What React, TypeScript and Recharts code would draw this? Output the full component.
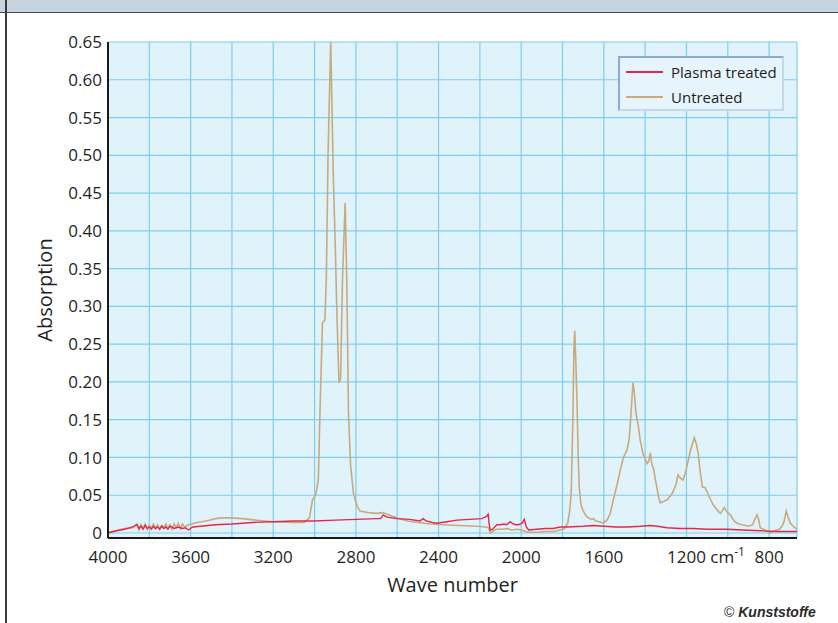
import React from "react";
import {
  LineChart,
  Line,
  XAxis,
  YAxis,
  CartesianGrid,
  Legend,
  Label,
} from "recharts";

// wave numbers (cm-1) and absorption
const untreatedWn = [
  4000, 3960, 3920, 3880, 3860, 3850, 3840, 3830, 3820, 3810, 3800, 3790, 3780,
  3770, 3760, 3750, 3740, 3730, 3720, 3710, 3700, 3690, 3680, 3670, 3660, 3650,
  3640, 3630, 3610, 3595, 3570, 3546, 3510, 3480, 3450, 3400, 3350, 3280, 3200,
  3100, 3050, 3025, 3010, 2995, 2982, 2974, 2962, 2950, 2943, 2935, 2922, 2910,
  2900, 2892, 2882, 2874, 2865, 2852, 2844, 2836, 2826, 2812, 2795, 2780, 2740,
  2700, 2670, 2640, 2600, 2550, 2500, 2440, 2380, 2300, 2214, 2170, 2158, 2150,
  2135, 2118, 2090, 2069, 2045, 2020, 2000, 1980, 1960, 1920, 1880, 1845, 1810,
  1790, 1775, 1765, 1758, 1750, 1745, 1741, 1736, 1730, 1724, 1719, 1712, 1706,
  1690, 1680, 1660, 1650, 1640, 1620, 1603, 1585, 1570, 1554, 1535, 1520, 1505,
  1488, 1477, 1468, 1459, 1452, 1445, 1432, 1424, 1410, 1391, 1383, 1375, 1367,
  1360, 1350, 1343, 1335, 1327, 1310, 1294, 1275, 1264, 1250, 1241, 1230, 1217,
  1205, 1198, 1180, 1162, 1152, 1143, 1133, 1123, 1110, 1101, 1085, 1070, 1050,
  1036, 1025, 1017, 1005, 988, 970, 955, 930, 900, 880, 866, 858, 850, 843, 820,
  795, 775, 750, 738, 728, 717, 707, 697, 680, 665,
];
const untreatedAbs = [
  0.001, 0.003, 0.006, 0.007, 0.012, 0.004, 0.011, 0.006, 0.012, 0.005, 0.01,
  0.007, 0.012, 0.006, 0.011, 0.005, 0.01, 0.007, 0.012, 0.006, 0.011, 0.005,
  0.012, 0.007, 0.013, 0.006, 0.012, 0.008, 0.011, 0.012, 0.014, 0.015, 0.017,
  0.019, 0.02, 0.02, 0.019, 0.017, 0.015, 0.014, 0.014, 0.02, 0.044, 0.05,
  0.07, 0.16, 0.278, 0.282, 0.34, 0.5, 0.65, 0.48, 0.38, 0.29, 0.199, 0.205,
  0.336, 0.437, 0.33, 0.16, 0.09, 0.053, 0.036, 0.029, 0.027, 0.026, 0.027,
  0.024, 0.02, 0.016, 0.014, 0.012, 0.011, 0.01, 0.009, 0.008, 0.007, 0.0,
  0.003, 0.005, 0.005, 0.006, 0.004, 0.005, 0.004, 0.002, 0.001, 0.001, 0.002,
  0.002, 0.004, 0.006, 0.013, 0.03, 0.053, 0.15, 0.24, 0.268, 0.23, 0.176,
  0.1, 0.061, 0.04, 0.033, 0.024, 0.021, 0.018, 0.019, 0.016, 0.015, 0.013,
  0.017, 0.025, 0.044, 0.065, 0.084, 0.1, 0.11, 0.125, 0.16, 0.199, 0.185,
  0.16, 0.14, 0.123, 0.105, 0.092, 0.095, 0.106, 0.09, 0.086, 0.07, 0.06,
  0.048, 0.04, 0.042, 0.044, 0.05, 0.055, 0.065, 0.077, 0.073, 0.07, 0.08,
  0.088, 0.11, 0.126, 0.118, 0.105, 0.08, 0.061, 0.06, 0.055, 0.045, 0.037,
  0.03, 0.026, 0.03, 0.034, 0.028, 0.024, 0.016, 0.013, 0.011, 0.009, 0.011,
  0.02, 0.024, 0.017, 0.007, 0.004, 0.0, 0.003, 0.005, 0.009, 0.015, 0.029,
  0.02, 0.013, 0.008, 0.005,
];

const plasmaWn = [
  4000, 3960, 3920, 3880, 3860, 3850, 3840, 3830, 3820, 3810, 3800, 3790, 3780,
  3770, 3760, 3750, 3740, 3730, 3720, 3710, 3700, 3680, 3660, 3640, 3625, 3611,
  3590, 3550, 3480, 3400, 3300, 3200, 3100, 3000, 2900, 2800, 2700, 2680, 2668,
  2650, 2600, 2540, 2490, 2474, 2460, 2430, 2408, 2360, 2311, 2250, 2190, 2168,
  2160, 2155, 2150, 2138, 2118, 2100, 2085, 2070, 2053, 2040, 2025, 2013, 1995,
  1985, 1975, 1964, 1924, 1880, 1845, 1811, 1780, 1700, 1651, 1600, 1540, 1488,
  1420, 1375, 1340, 1294, 1230, 1167, 1100, 1006, 930, 843, 760, 665,
];
const plasmaAbs = [
  0.0, 0.003, 0.005, 0.008, 0.011, 0.006, 0.009, 0.005, 0.01, 0.006, 0.008,
  0.005, 0.009, 0.006, 0.008, 0.005, 0.009, 0.006, 0.008, 0.005, 0.009, 0.006,
  0.008, 0.006, 0.007, 0.004, 0.008, 0.009, 0.011, 0.012, 0.014, 0.015, 0.016,
  0.016, 0.017, 0.018, 0.019, 0.019, 0.024, 0.021, 0.019, 0.018, 0.016, 0.019,
  0.016, 0.014, 0.013, 0.015, 0.017, 0.018, 0.019, 0.022, 0.025, 0.012, 0.004,
  0.005, 0.011, 0.011, 0.012, 0.011, 0.015, 0.012, 0.011, 0.011, 0.013, 0.018,
  0.008, 0.004, 0.005, 0.006, 0.006, 0.008, 0.008, 0.009, 0.01, 0.009, 0.008,
  0.008, 0.009, 0.01, 0.009, 0.007, 0.006, 0.006, 0.005, 0.005, 0.004, 0.003,
  0.002, 0.002,
];

const seriesNames = ["Plasma treated", "Untreated"];
const seriesColors = ["#e2284b", "#c9aa7c"];

const yTicks = [0, 0.05, 0.1, 0.15, 0.2, 0.25, 0.3, 0.35, 0.4, 0.45, 0.5, 0.55, 0.6, 0.65];
const xGridTicks = [
  4000, 3800, 3600, 3400, 3200, 3000, 2800, 2600, 2400, 2200, 2000, 1800, 1600,
  1400, 1200, 1000, 800,
];
const xTickLabels = [4000, 3600, 3200, 2800, 2400, 2000, 1600, 1200, 800];
const unitTick = 1200;

const untreatedData = untreatedWn.map((wn, i) => ({ wn, a: untreatedAbs[i] }));
const plasmaData = plasmaWn.map((wn, i) => ({ wn, a: plasmaAbs[i] }));

const FONT = "'Open Sans', sans-serif";
const INK = "#1f1f1f";

const XTick = ({ x, y, payload }: any) => {
  const v = payload.value;
  if (!xTickLabels.includes(v)) return null;
  if (v === unitTick) {
    return (
      <text x={x - 19.5} y={y + 17} fontFamily={FONT} fontSize={17} fill={INK}>
        {v} cm
        <tspan dy={-7} fontSize={12}>
          -1
        </tspan>
      </text>
    );
  }
  return (
    <text x={x} y={y + 17} textAnchor="middle" fontFamily={FONT} fontSize={17} fill={INK}>
      {v}
    </text>
  );
};

const XTitle = ({ viewBox }: any) => (
  <text
    x={viewBox.x + viewBox.width / 2}
    y={viewBox.y + 54}
    textAnchor="middle"
    fontFamily={FONT}
    fontSize={20}
    fill={INK}
  >
    Wave number
  </text>
);

const YTitle = ({ viewBox }: any) => {
  const cx = viewBox.x + 4;
  const cy = viewBox.y + viewBox.height / 2;
  return (
    <text
      x={cx}
      y={cy}
      transform={`rotate(-90 ${cx} ${cy})`}
      textAnchor="middle"
      fontFamily={FONT}
      fontSize={20}
      fill={INK}
    >
      Absorption
    </text>
  );
};

const LegendBox = () => (
  <div
    style={{
      width: 162,
      height: 50,
      background: "#e6f4fb",
      borderLeft: "2px solid #8eaad4",
      borderTop: "2px solid #8eaad4",
      borderRight: "2px solid #c4d8ea",
      borderBottom: "2px solid #c4d8ea",
      fontFamily: FONT,
      fontSize: 15,
      color: INK,
      paddingTop: 1,
      boxSizing: "content-box",
      whiteSpace: "nowrap",
    }}
  >
    {seriesNames.map((name, i) => (
      <div key={name} style={{ display: "flex", alignItems: "center", height: 25 }}>
        <span
          style={{
            display: "inline-block",
            flex: "0 0 37px",
            height: 2,
            marginLeft: 6,
            marginRight: 8,
            background: seriesColors[i],
          }}
        />
        <span>{name}</span>
      </div>
    ))}
  </div>
);

export default function App() {
  return (
    <div
      style={{
        position: "absolute",
        left: 0,
        top: 0,
        width: 838,
        height: 623,
        background: "#fff",
        overflow: "hidden",
      }}
    >
      <div
        style={{
          position: "absolute",
          left: 0,
          top: 0,
          width: 838,
          height: 12,
          background: "#c6d4df",
          borderBottom: "1.5px solid #4a4a4a",
        }}
      />
      <div
        style={{
          position: "absolute",
          left: 5,
          top: 0,
          width: 1.5,
          height: 623,
          background: "#3a3a3a",
        }}
      />
      <div style={{ position: "absolute", left: 0, top: 0 }}>
        <LineChart
          width={838}
          height={623}
          margin={{ top: 42, right: 41, bottom: 55, left: 48 }}
        >
          <CartesianGrid
            fill="#e0f2fa"
            fillOpacity={1}
            stroke="#7dcff0"
            strokeWidth={1.2}
          />
          <XAxis
            dataKey="wn"
            type="number"
            domain={[665, 4000]}
            reversed
            allowDataOverflow
            ticks={xGridTicks}
            interval={0}
            height={30}
            tick={<XTick />}
            tickLine={false}
            axisLine={{ stroke: "#1a1a1a", strokeWidth: 2 }}
          >
            <Label content={<XTitle />} />
          </XAxis>
          <YAxis
            type="number"
            domain={[-0.0066, 0.65]}
            allowDataOverflow
            ticks={yTicks}
            interval={0}
            width={60}
            tickSize={6}
            tickMargin={0}
            tickLine={false}
            tickFormatter={(v: number) => (v === 0 ? "0" : v.toFixed(2))}
            tick={{ fontFamily: FONT, fontSize: 17, fill: INK }}
            axisLine={{ stroke: "#1a1a1a", strokeWidth: 2 }}
          >
            <Label content={<YTitle />} />
          </YAxis>
          <Legend
            layout="vertical"
            align="center"
            verticalAlign="middle"
            content={<LegendBox />}
            wrapperStyle={{ left: 618, top: 56, width: 166, height: 55 }}
          />
          <Line
            data={untreatedData}
            dataKey="a"
            name={seriesNames[1]}
            type="linear"
            stroke={seriesColors[1]}
            strokeWidth={1.6}
            dot={false}
            isAnimationActive={false}
          />
          <Line
            data={plasmaData}
            dataKey="a"
            name={seriesNames[0]}
            type="linear"
            stroke={seriesColors[0]}
            strokeWidth={1.4}
            dot={false}
            isAnimationActive={false}
          />
        </LineChart>
      </div>
      <div
        style={{
          position: "absolute",
          left: 724,
          top: 604,
          fontFamily: "'Liberation Sans', Arial, sans-serif",
          fontSize: 14,
          color: "#2a2a2a",
          whiteSpace: "nowrap",
        }}
      >
        ©{" "}
        <span style={{ fontWeight: "bold", fontStyle: "italic" }}>Kunststoffe</span>
      </div>
    </div>
  );
}
